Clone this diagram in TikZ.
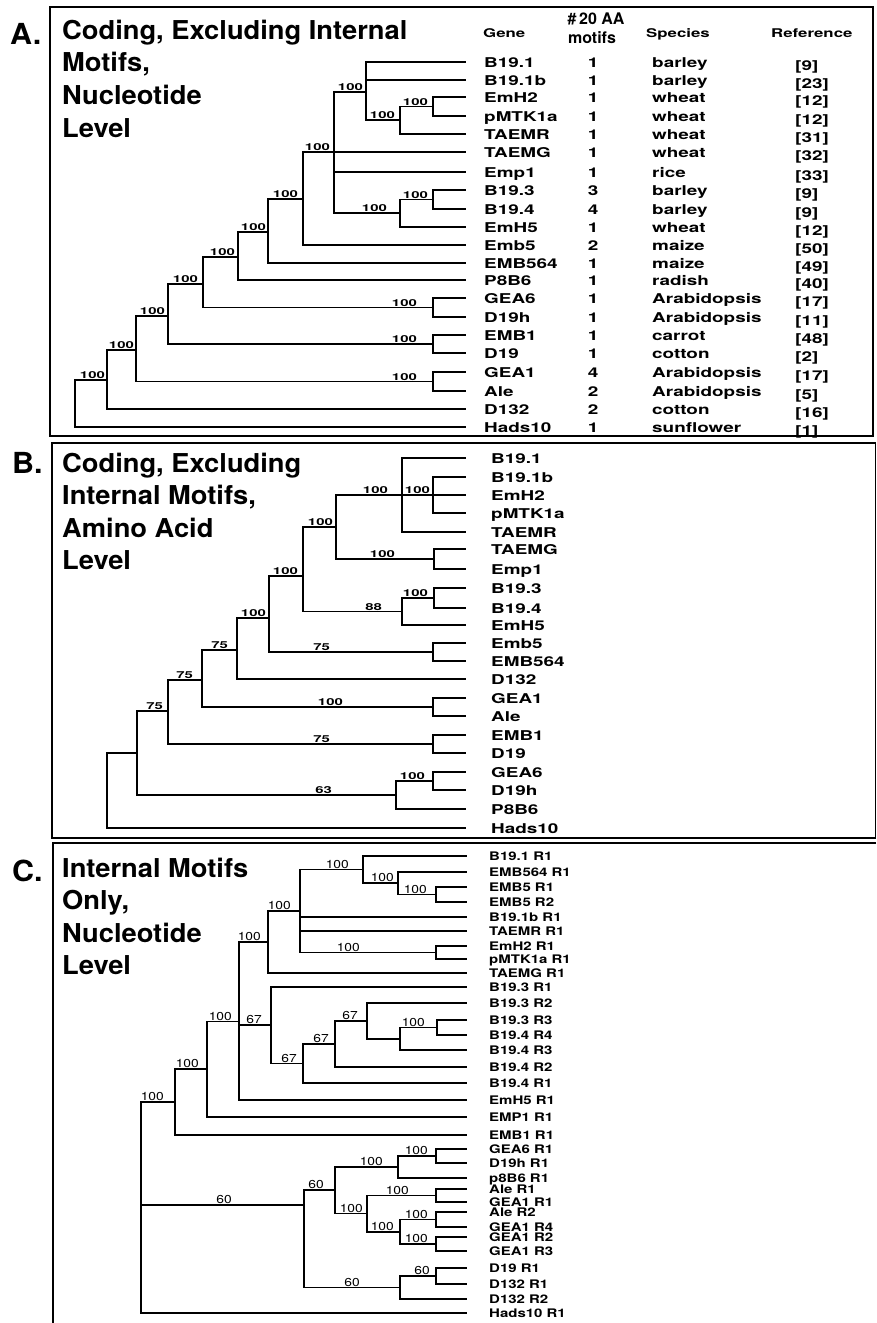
\documentclass[tikz,border=0pt]{standalone}
\usepackage{fontspec}
\setmainfont{TeX Gyre Heros}
\newfontfamily\titlesf[FakeStretch=1.05]{TeX Gyre Heros}
\newfontfamily\widesf[FakeStretch=1.4]{TeX Gyre Heros}
\newfontfamily\slimsf[FakeStretch=1.27]{TeX Gyre Heros}
\newfontfamily\bootsf[FakeStretch=1.55]{TeX Gyre Heros}
\newfontfamily\bootcsf[FakeStretch=1.2]{TeX Gyre Heros}

\begin{document}
\begin{tikzpicture}[
        x=1pt, y=-1pt,
        branch/.style={line width=1.3pt},
        frame/.style={line width=1.2pt},
        letter/.style={font=\titlesf\bfseries\fontsize{29}{32}\selectfont, anchor=base west, inner sep=0pt},
        ttl/.style={font=\titlesf\bfseries\fontsize{26}{30}\selectfont, anchor=base west, inner sep=0pt},
        head/.style={font=\widesf\bfseries\fontsize{12}{14}\selectfont, anchor=base west, inner sep=0pt, yshift=-4.5pt},
        motifhead/.style={font=\bfseries\fontsize{16}{18}\selectfont, anchor=base, inner sep=0pt, yshift=-6pt},
        gene/.style={font=\widesf\bfseries\fontsize{13.5}{15}\selectfont, anchor=base west, inner sep=0pt, yshift=-5pt},
        cnt/.style={gene, anchor=base},
        genec/.style={font=\slimsf\bfseries\fontsize{11.8}{13}\selectfont, anchor=base west, inner sep=0pt, yshift=-4.2pt},
        boot/.style={font=\bootsf\bfseries\fontsize{9.6}{11}\selectfont, anchor=south east, inner sep=1pt},
        bootc/.style={font=\bootcsf\fontsize{11.5}{13}\selectfont, anchor=south east, inner sep=1pt}
    ]
    \useasboundingbox (0,0) rectangle (876,1323);

    % Cornici
    \draw[frame] (50,7) rectangle (873,436);
    \draw[frame] (52,443) rectangle (875.5,838);
    \draw[frame] (876,843) -- (53,843) -- (53,1323);

    % Titoli
    \node[letter] (pA) at (10,44) {A.};
    \node[ttl] (tA1) at (62,39) {Coding, Excluding Internal};
    \node[ttl] (tA2) at (62,71.8) {Motifs,};
    \node[ttl] (tA3) at (62,104.6) {Nucleotide};
    \node[ttl] (tA4) at (62,137.4) {Level};

    \node[letter] (pB) at (12,473) {B.};
    \node[ttl] (tB1) at (62,472) {Coding, Excluding};
    \node[ttl] (tB2) at (62,504.5) {Internal Motifs,};
    \node[ttl] (tB3) at (62,537) {Amino Acid};
    \node[ttl] (tB4) at (62,569.5) {Level};

    \node[letter] (pC) at (12,881) {C.};
    \node[ttl] (tC1) at (62,877) {Internal Motifs};
    \node[ttl] (tC2) at (62,909.5) {Only,};
    \node[ttl] (tC3) at (62,942) {Nucleotide};
    \node[ttl] (tC4) at (62,974.5) {Level};

    % Intestazioni tabella A
    \node[head] (hGene) at (483,33) {Gene};
    \node[motifhead] (hMot1) at (596,18) {\#\,20 AA};
    \node[motifhead] (hMot2) at (592,37) {motifs};
    \node[head] (hSpec) at (646,33) {Species};
    \node[head] (hRef) at (771,33) {Reference};

    % Foglie A
    \foreach \y/\g/\m/\s/\r [count=\i] in {
        62/B19.1/1/barley/9, 80/B19.1b/1/barley/23, 97/EmH2/1/wheat/12,
        116/pMTK1a/1/wheat/12, 134/TAEMR/1/wheat/31, 152/TAEMG/1/wheat/32,
        172/Emp1/1/rice/33, 190/B19.3/3/barley/9, 209/B19.4/4/barley/9,
        227/EmH5/1/wheat/12, 245/Emb5/2/maize/50, 263/EMB564/1/maize/49,
        280/P8B6/1/radish/40, 298/GEA6/1/Arabidopsis/17, 317/D19h/1/Arabidopsis/11,
        335/EMB1/1/carrot/48, 353/D19/1/cotton/2, 372/GEA1/4/Arabidopsis/17,
        391/Ale/2/Arabidopsis/5, 409/D132/2/cotton/16, 427/Hads10/1/sunflower/1}{
        \coordinate (a\i) at (466,\y);
        \node[gene] (gA\i) at (484,\y) {\g};
        \node[cnt] (mA\i) at (593,\y) {\m};
        \node[gene] (sA\i) at (652,\y) {\s};
        \node[gene] (fA\i) at (795,\y+3) {[\r]};
    }

    % Nodi interni A
    \coordinate (nA3) at (433,106.5);
    \coordinate (nA2) at (400,120);
    \coordinate (nA1) at (366,92);
    \coordinate (nA5) at (433,199.5);
    \coordinate (nA4) at (400,213);
    \coordinate (nA0) at (334,152);
    \coordinate (nA6) at (303,199);
    \coordinate (nA7) at (268,232);
    \coordinate (nA8) at (238,257);
    \coordinate (nA9) at (433,307.5);
    \coordinate (nA10) at (203,284);
    \coordinate (nA11) at (433,344);
    \coordinate (nA12) at (168,316);
    \coordinate (nA13) at (433,381.5);
    \coordinate (nA14) at (136,350);
    \coordinate (nA15) at (107,380);
    \coordinate (rootA) at (75,403.5);

    % Rami A
    \foreach \p/\c in {nA3/a3, nA3/a4, nA2/nA3, nA2/a5, nA1/a1, nA1/a2, nA1/nA2,
        nA5/a8, nA5/a9, nA4/nA5, nA4/a10, nA0/nA1, nA0/a6, nA0/a7, nA0/nA4,
        nA6/nA0, nA6/a11, nA7/nA6, nA7/a12, nA8/nA7, nA8/a13, nA9/a14, nA9/a15,
        nA10/nA8, nA10/nA9, nA11/a16, nA11/a17, nA12/nA10, nA12/nA11,
        nA13/a18, nA13/a19, nA14/nA12, nA14/nA13, nA15/nA14, nA15/a20,
        rootA/nA15, rootA/a21}
        \draw[branch] (\p) |- (\c);

    % Valori bootstrap A
    \node[boot] (bA3) at (429,106.5) {100};
    \node[boot] (bA2) at (396,120) {100};
    \node[boot] (bA1) at (364,92) {100};
    \node[boot] (bA5) at (429,199.5) {100};
    \node[boot] (bA4) at (388,213) {100};
    \node[boot] (bA0) at (331,152) {100};
    \node[boot] (bA6) at (299,199) {100};
    \node[boot] (bA7) at (267,232) {100};
    \node[boot] (bA8) at (236,257) {100};
    \node[boot] (bA9) at (418,307.5) {100};
    \node[boot] (bA10) at (199,284) {100};
    \node[boot] (bA11) at (418,344) {100};
    \node[boot] (bA12) at (166,316) {100};
    \node[boot] (bA13) at (418,381.5) {100};
    \node[boot] (bA14) at (135,350) {100};
    \node[boot] (bA15) at (106,380) {100};

    % Foglie B
    \foreach \y/\g [count=\i] in {
        458/B19.1, 477/B19.1b, 495/EmH2, 513/pMTK1a, 532/TAEMR, 549/TAEMG,
        569/Emp1, 588/B19.3, 608/B19.4, 625/EmH5, 643/Emb5, 661/EMB564,
        679/D132, 698/GEA1, 716/Ale, 735/EMB1, 753/D19, 772/GEA6,
        790/D19h, 809/P8B6, 828/Hads10}{
        \coordinate (b\i) at (466,\y);
        \node[gene] (gB\i) at (491,\y) {\g};
    }

    % Nodi interni B
    \coordinate (nB1) at (433,495);
    \coordinate (nB2) at (402,495);
    \coordinate (nB3) at (434,559);
    \coordinate (nB4) at (336,527);
    \coordinate (nB5) at (434,598);
    \coordinate (nB6) at (402,611.5);
    \coordinate (nB7) at (303,576);
    \coordinate (nB8) at (433,652);
    \coordinate (nB9) at (269,618);
    \coordinate (nB10) at (237,650);
    \coordinate (nB11) at (433,707);
    \coordinate (nB12) at (202,680);
    \coordinate (nB13) at (433,744);
    \coordinate (nB14) at (168,711);
    \coordinate (nB15) at (433,781);
    \coordinate (nB16) at (396,795);
    \coordinate (nB17) at (137,753);
    \coordinate (rootB) at (107,790.5);

    % Rami B
    \foreach \p/\c in {nB1/b2, nB1/b3, nB1/b4, nB2/b1, nB2/nB1, nB2/b5,
        nB3/b6, nB3/b7, nB4/nB2, nB4/nB3, nB5/b8, nB5/b9, nB6/nB5, nB6/b10,
        nB7/nB4, nB7/nB6, nB8/b11, nB8/b12, nB9/nB7, nB9/nB8, nB10/nB9, nB10/b13,
        nB11/b14, nB11/b15, nB12/nB10, nB12/nB11, nB13/b16, nB13/b17,
        nB14/nB12, nB14/nB13, nB15/b18, nB15/b19, nB16/nB15, nB16/b20,
        nB17/nB14, nB17/nB16, rootB/nB17, rootB/b21}
        \draw[branch] (\p) |- (\c);

    % Valori bootstrap B
    \node[boot] (bB1) at (431,495) {100};
    \node[boot] (bB2) at (389,495) {100};
    \node[boot] (bB3) at (396,559) {100};
    \node[boot] (bB4) at (334,527) {100};
    \node[boot] (bB5) at (429,598) {100};
    \node[boot] (bB6) at (383,611.5) {88};
    \node[boot] (bB7) at (299,576) {100};
    \node[boot] (bB8) at (331,652) {75};
    \node[boot] (bB9) at (267,618) {100};
    \node[boot] (bB10) at (229,650) {75};
    \node[boot] (bB11) at (344,707) {100};
    \node[boot] (bB12) at (194,680) {75};
    \node[boot] (bB13) at (331,744) {75};
    \node[boot] (bB14) at (164,711) {75};
    \node[boot] (bB15) at (426,781) {100};
    \node[boot] (bB16) at (333,795) {63};

    % Foglie C
    \foreach \y/\g [count=\i] in {
        856/B19.1 R1, 872/EMB564 R1, 887/EMB5 R1, 902/EMB5 R2, 917/B19.1b R1,
        931/TAEMR R1, 946/EmH2 R1, 959/pMTK1a R1, 973/TAEMG R1, 987/B19.3 R1,
        1003/B19.3 R2, 1020/B19.3 R3, 1035/B19.4 R4, 1050/B19.4 R3, 1067/B19.4 R2,
        1083/B19.4 R1, 1100/EmH5 R1, 1117/EMP1 R1, 1135/EMB1 R1, 1149/GEA6 R1,
        1163/D19h R1, 1178/p8B6 R1, 1189/Ale R1, 1202/GEA1 R1, 1212/Ale R2,
        1227/GEA1 R4, 1237/GEA1 R2, 1251/GEA1 R3, 1268/D19 R1, 1284/D132 R1,
        1299/D132 R2, 1313/Hads10 R1}{
        \coordinate (c\i) at (467,\y);
        \node[genec] (gC\i) at (489,\y) {\g};
    }

    % Nodi interni C
    \coordinate (nC1) at (436,894.5);
    \coordinate (nC2) at (398,883);
    \coordinate (nC3) at (363,869.5);
    \coordinate (nC4) at (436,952.5);
    \coordinate (nC5) at (300,911);
    \coordinate (nC6) at (268,942);
    \coordinate (nC7) at (437,1027.5);
    \coordinate (nC8) at (400,1039);
    \coordinate (nC9) at (367,1021);
    \coordinate (nC10) at (335,1044);
    \coordinate (nC11) at (303,1063.5);
    \coordinate (nC12) at (271,1025);
    \coordinate (nC13) at (239,1021.5);
    \coordinate (nC14) at (207,1069);
    \coordinate (nC15) at (175,1102);
    \coordinate (nC21) at (436,1156);
    \coordinate (nC19) at (398,1167);
    \coordinate (nC22) at (436,1195.5);
    \coordinate (nC24) at (436,1219.5);
    \coordinate (nC25) at (436,1244);
    \coordinate (nC23) at (400,1232);
    \coordinate (nC20) at (367,1213.5);
    \coordinate (nC17) at (335,1190);
    \coordinate (nC26) at (436,1276);
    \coordinate (nC18) at (400,1287.5);
    \coordinate (nC16) at (304,1205);
    \coordinate (rootC) at (141,1207.5);

    % Rami C
    \foreach \p/\c in {nC1/c3, nC1/c4, nC2/c2, nC2/nC1, nC3/c1, nC3/nC2,
        nC4/c7, nC4/c8, nC5/nC3, nC5/c5, nC5/c6, nC5/nC4, nC6/nC5, nC6/c9,
        nC7/c12, nC7/c13, nC8/nC7, nC8/c14, nC9/c11, nC9/nC8, nC10/nC9, nC10/c15,
        nC11/nC10, nC11/c16, nC12/c10, nC12/nC11, nC13/nC6, nC13/nC12, nC13/c17,
        nC14/nC13, nC14/c18, nC15/nC14, nC15/c19,
        nC21/c20, nC21/c21, nC19/nC21, nC19/c22, nC22/c23, nC22/c24,
        nC24/c25, nC24/c26, nC25/c27, nC25/c28, nC23/nC24, nC23/nC25,
        nC20/nC22, nC20/nC23, nC17/nC19, nC17/nC20, nC26/c29, nC26/c30,
        nC18/nC26, nC18/c31, nC16/nC17, nC16/nC18,
        rootC/nC15, rootC/nC16, rootC/c32}
        \draw[branch] (\p) |- (\c);

    % Valori bootstrap C
    \node[bootc] (bC1) at (428,894.5) {100};
    \node[bootc] (bC2) at (395,883) {100};
    \node[bootc] (bC3) at (350,869.5) {100};
    \node[bootc] (bC4) at (361,952.5) {100};
    \node[bootc] (bC5) at (292,911) {100};
    \node[bootc] (bC6) at (262,942) {100};
    \node[bootc] (bC7) at (426,1027.5) {100};
    \node[bootc] (bC9) at (359,1021) {67};
    \node[bootc] (bC10) at (330,1044) {67};
    \node[bootc] (bC11) at (298,1063.5) {67};
    \node[bootc] (bC12) at (263,1025) {67};
    \node[bootc] (bC13) at (233,1021.5) {100};
    \node[bootc] (bC14) at (200,1069) {100};
    \node[bootc] (bC15) at (165,1102) {100};
    \node[bootc] (bC16) at (233,1205) {60};
    \node[bootc] (bC17) at (325,1190) {60};
    \node[bootc] (bC18) at (361,1287.5) {60};
    \node[bootc] (bC19) at (384,1167) {100};
    \node[bootc] (bC20) at (364,1213.5) {100};
    \node[bootc] (bC21) at (429,1156) {100};
    \node[bootc] (bC22) at (410,1195.5) {100};
    \node[bootc] (bC23) at (395,1232) {100};
    \node[bootc] (bC24) at (429,1219.5) {100};
    \node[bootc] (bC25) at (429,1244) {100};
    \node[bootc] (bC26) at (431,1276) {60};

\end{tikzpicture}
\end{document}
